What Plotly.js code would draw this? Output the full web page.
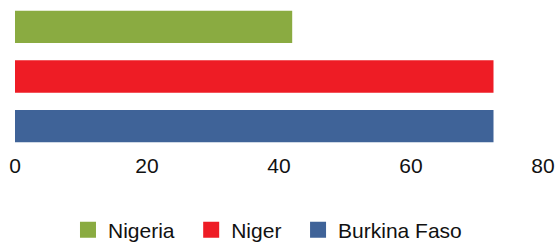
<!DOCTYPE html>
<html><head><meta charset="utf-8">
<script src="https://cdn.plot.ly/plotly-3.0.1.min.js"></script>
<style>html,body{margin:0;padding:0;background:#fff}</style>
</head><body>
<div id="chart" style="width:557px;height:244px"></div>
<script>
const countries = ["Nigeria", "Niger", "Burkina Faso"];
const values = [42.0, 72.5, 72.5];
const colors = ["#8aab41", "#ee1c25", "#3f6398"];
const tickValues = [0, 20, 40, 60, 80];

const barTraces = countries.map((c, i) => ({
  type: "bar",
  orientation: "h",
  name: c,
  y: [c],
  x: [values[i]],
  width: 0.65,
  marker: {color: colors[i]},
  showlegend: false,
  hoverinfo: "x+y"
}));
const legendTraces = countries.map((c, i) => ({
  type: "scatter",
  mode: "markers",
  name: c + "\u00a0\u00a0",
  x: [null], y: [null],
  marker: {symbol: "square", size: 17, color: colors[i]},
  showlegend: true
}));

const layout = {
  width: 557, height: 244,
  margin: {l: 15, r: 14, t: 2, b: 93, autoexpand: false},
  paper_bgcolor: "#fff", plot_bgcolor: "#fff",
  font: {family: "Liberation Sans, Arial, sans-serif", color: "#111", size: 21},
  barmode: "overlay",
  showlegend: true,
  legend: {orientation: "h", xref: "container", yref: "container",
           x: 0.491, xanchor: "center", y: 0.057, yanchor: "middle",
           font: {size: 21}, itemclick: false},
  xaxis: {range: [0, 80], tickvals: tickValues, showgrid: false, zeroline: false,
          showline: false, ticks: "", tickfont: {size: 21}},
  yaxis: {categoryorder: "array", categoryarray: countries, autorange: "reversed",
          showticklabels: false, showgrid: false, zeroline: false, showline: false, ticks: ""}
};
Plotly.newPlot("chart", barTraces.concat(legendTraces), layout, {displayModeBar: false, staticPlot: true});
</script>
</body></html>
